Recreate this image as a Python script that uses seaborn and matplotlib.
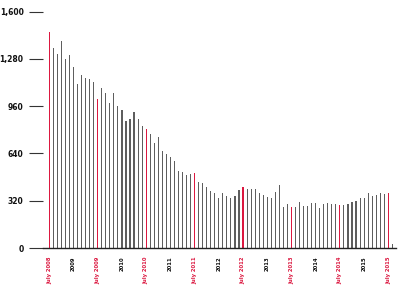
import matplotlib
matplotlib.use("Agg")
import matplotlib.pyplot as plt
import seaborn as sns
import pandas as pd

# monthly values, July 2008 .. August 2015
values = [1463, 1350, 1310, 1403, 1276, 1306, 1227, 1110, 1170, 1150, 1141, 1123,
          1006, 1080, 1050, 983, 1051, 960, 934, 861, 870, 922, 870, 825,
          805, 770, 712, 753, 658, 636, 618, 591, 521, 516, 494, 500,
          510, 449, 438, 411, 388, 370, 336, 374, 352, 336, 350, 392,
          411, 400, 397, 397, 370, 358, 343, 336, 381, 426, 275, 296,
          275, 275, 313, 284, 284, 302, 307, 268, 296, 307, 300, 298,
          291, 290, 298, 313, 320, 336, 340, 370, 354, 360, 374, 363,
          374, 27]
start_year = 2008
july_labels = [f"July {start_year + i}" for i in range(8)]
year_labels = [str(start_year + 1 + i) for i in range(7)]
yticks = [0, 320, 640, 960, 1280, 1600]
ytick_labels = ["0", "320", "640", "960", "1,280", "1,600"]

RED = "#dc1840"
GREY = "#5e5e5e"

n = len(values)
months = [f"m{i:02d}" for i in range(n)]
colors = [RED if i % 12 == 0 else GREY for i in range(n)]
df = pd.DataFrame({"month": months, "value": values})

sns.set_style("white")
fig = plt.figure(figsize=(4.0, 2.95), dpi=100)
ax = fig.add_axes([0.1075, 0.159, 0.8825, 0.802])
sns.barplot(data=df, x="month", y="value", hue="month", palette=colors,
            legend=False, width=0.28, ax=ax, linewidth=0, saturation=1)

ax.set_ylim(0, 1600)
ax.set_xlim(-1.56, 85.9)
ax.set_yticks(yticks)
ax.set_yticklabels(ytick_labels, fontsize=5.5, fontweight="bold", color="#111111")
ax.tick_params(axis="y", direction="out", length=10, width=0.8, color="#333333", pad=4, left=True)

red_pos = [12 * i for i in range(len(july_labels))]
jan_pos = [6 + 12 * i for i in range(len(year_labels))]
pos = red_pos + jan_pos
labs = july_labels + year_labels
ax.set_xticks(pos)
ax.set_xticklabels(labs, rotation=90, fontsize=3.8, fontweight="bold", va="top")
for t, p in zip(ax.get_xticklabels(), pos):
    t.set_color(RED if p % 12 == 0 else "#111111")
ax.tick_params(axis="x", length=0, pad=6)

ax.set_xlabel("")
ax.set_ylabel("")
for s in ["top", "right", "left"]:
    ax.spines[s].set_visible(False)
ax.spines["bottom"].set_color("#222222")
ax.spines["bottom"].set_linewidth(1.0)

fig.savefig("out.png", dpi=100)
